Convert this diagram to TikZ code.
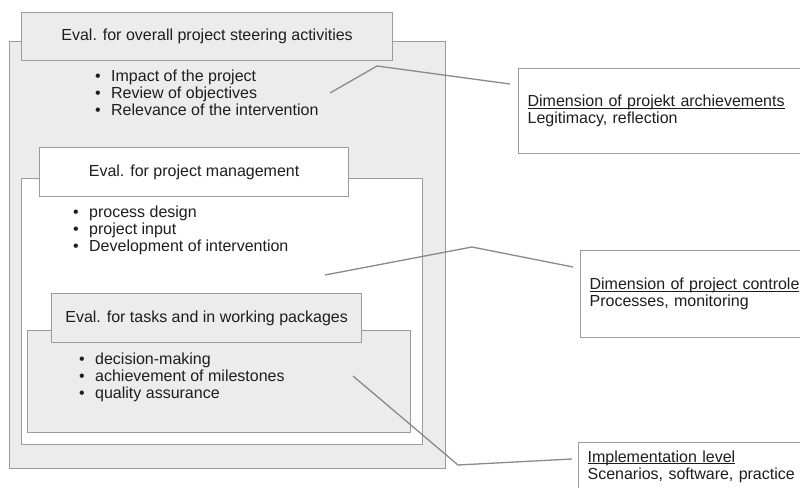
\documentclass[tikz,border=0pt]{standalone}
\usepackage{fontspec}
\setmainfont{Liberation Sans}
\usetikzlibrary{calc}
\definecolor{framegray}{HTML}{9C9C9C}
\definecolor{linkgray}{HTML}{8A8A8A}
\definecolor{fillgray}{HTML}{ECECEC}
\definecolor{inkgray}{HTML}{1E1E1E}
\newcommand{\bl}{\makebox[16pt][l]{\textbullet}}
\newcommand{\ulab}[1]{\leavevmode\sbox0{#1}\rlap{\rule[-1.8pt]{\wd0}{0.8pt}}\usebox0}
\tikzset{lvl/.style={draw=framegray, line width=1.2pt, anchor=north west, inner sep=0pt},
  head/.style={lvl, align=center, font=\fontsize{16}{17}\selectfont},
  items/.style={anchor=north west, inner sep=0pt, align=left, font=\fontsize{16}{17}\selectfont},
  dim/.style={lvl, fill=white, align=left, text width=280pt, inner xsep=9pt, font=\fontsize{16}{17}\selectfont},
  lnk/.style={draw=linkgray, line width=1.3pt, line join=round}}

\begin{document}
\begin{tikzpicture}[x=1pt, y=-1pt, text=inkgray]
  \useasboundingbox (0,0) rectangle (800,487);
  \clip (0,0) rectangle (800,487);
  \fill[white] (0,0) rectangle (800,487);
  % overall steering level
  \node[lvl, fill=fillgray, minimum width=436pt, minimum height=427pt] (outer) at (9,41) {};
  \node[head, fill=fillgray, minimum width=371pt, minimum height=48pt] (outerhd) at (21,12) {Eval. for overall project steering activities};
  \node[items] (outerls) at (95,70) {\bl Impact of the project\\ \bl Review of objectives\\ \bl Relevance of the intervention};
  % management level
  \node[lvl, fill=white, minimum width=401pt, minimum height=266pt] (mid) at (21,178) {};
  \node[head, fill=white, minimum width=309pt, minimum height=49pt] (midhd) at (39,147) {Eval. for project management};
  \node[items] (midls) at (73,206) {\bl process design\\ \bl project input\\ \bl Development of intervention};
  % working package level
  \node[lvl, fill=fillgray, minimum width=383pt, minimum height=102pt] (inner) at (27,330) {};
  \node[head, fill=fillgray, minimum width=310pt, minimum height=49pt] (innerhd) at (51,293) {Eval. for tasks and in working packages};
  \node[items] (innerls) at (79,353) {\bl decision-making\\ \bl achievement of milestones\\ \bl quality assurance};
  % dimensions (right)
  \node[dim, minimum height=85pt] (dimA) at (518,68) {\ulab{Dimension of projekt archievements}\\ Legitimacy, reflection};
  \node[dim, minimum height=87pt] (dimB) at (580,250) {\ulab{Dimension of project controle}\\ Processes, monitoring};
  \node[dim, minimum height=48pt] (dimC) at (578,442) {\ulab{Implementation level}\\ Scenarios, software, practice};
  % links
  \coordinate (srcA) at (330,93);
  \coordinate (kinkA) at (377,66);
  \coordinate (srcB) at (325,275);
  \coordinate (kinkB) at (472,247);
  \coordinate (srcC) at (353,376);
  \coordinate (kinkC) at (458,465);
  \draw[lnk] (srcA) -- (kinkA) -- ($(dimA.north west)+(-8,16)$);
  \draw[lnk] (srcB) -- (kinkB) -- ($(dimB.north west)+(-7,17)$);
  \draw[lnk] (srcC) -- (kinkC) -- ($(dimC.north west)+(-6,17)$);
\end{tikzpicture}
\end{document}
